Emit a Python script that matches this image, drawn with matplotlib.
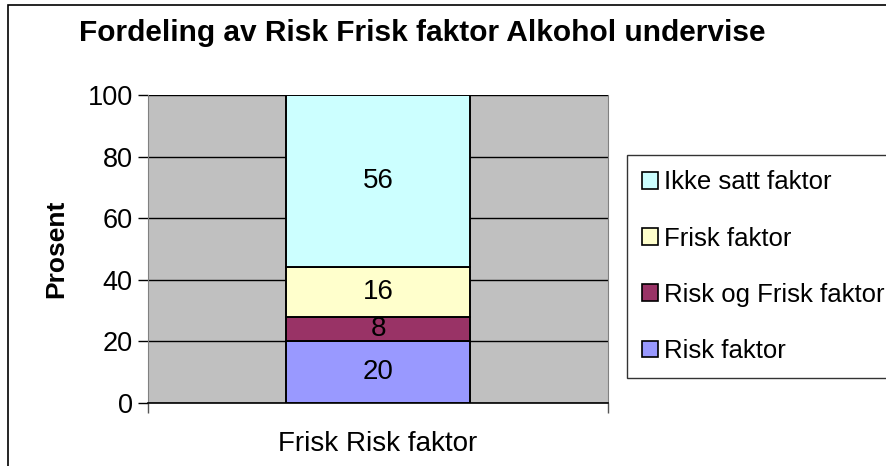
import matplotlib.pyplot as plt
from matplotlib.patches import Rectangle

plt.rcParams["font.family"] = ["Liberation Sans", "DejaVu Sans"]

categories = ["Frisk Risk faktor"]
series_names = ["Risk faktor", "Risk og Frisk faktor", "Frisk faktor", "Ikke satt faktor"]
series_values = [[20], [8], [16], [56]]
series_colors = ["#9999FF", "#993366", "#FFFFCC", "#CCFFFF"]
y_ticks = [0, 20, 40, 60, 80, 100]

fig = plt.figure(figsize=(8.86, 4.66), dpi=100)
fig.patches.append(
    Rectangle((7.5 / 886, -0.1), 1.2, 1 - 5 / 466 + 0.1, transform=fig.transFigure,
              fill=False, edgecolor="black", linewidth=1.2)
)

ax = fig.add_axes([148 / 886, 63 / 466, 460 / 886, 308 / 466])
ax.set_facecolor("#C0C0C0")

x = list(range(len(categories)))
bottom = [0] * len(categories)
handles = []
for name, vals, color in zip(series_names, series_values, series_colors):
    bars = ax.bar(x, vals, width=0.4, bottom=bottom, color=color,
                  edgecolor="black", linewidth=1.4, label=name, zorder=3)
    handles.append(bars)
    for xi, v, b in zip(x, vals, bottom):
        ax.text(xi, b + v / 2, str(v), ha="center", va="center",
                fontsize=20, zorder=4)
    bottom = [b + v for b, v in zip(bottom, vals)]

ax.set_xlim(-0.5, 0.5)
ax.set_ylim(0, 100)
ax.set_yticks(y_ticks)
ax.tick_params(axis="y", labelsize=19.5, length=7, width=1, direction="out", pad=4)
ax.yaxis.grid(True, color="black", linewidth=1, zorder=1)
ax.set_axisbelow(True)

ax.set_xticks(x)
ax.set_xticklabels(categories, fontsize=20)
ax.tick_params(axis="x", length=0, pad=20)
ax.set_xticks([-0.5, 0.5], minor=True)
ax.tick_params(axis="x", which="minor", length=7, width=1, color="#555555")

ax.spines["top"].set_visible(False)
ax.spines["left"].set_color("#808080")
ax.spines["right"].set_color("#808080")
ax.spines["bottom"].set_color("black")
ax.spines["bottom"].set_linewidth(1.2)

ax.set_ylabel("Prosent", fontsize=19, fontweight="bold", labelpad=14)

fig.text(422 / 886, 1 - 33 / 466, "Fordeling av Risk Frisk faktor Alkohol undervise",
         ha="center", va="center", fontsize=21.5, fontweight="bold")

leg = fig.legend(handles[::-1], series_names[::-1], loc="upper left",
                 bbox_to_anchor=(627 / 886, 1 - 155 / 466), fontsize=18.5,
                 frameon=True, fancybox=False, edgecolor="black",
                 labelspacing=1.25, handlelength=0.6, handleheight=0.6,
                 handletextpad=0.25, borderpad=0.6, borderaxespad=0)
leg.get_frame().set_linewidth(1)
for h in leg.legend_handles:
    h.set_edgecolor("black")
    h.set_linewidth(1.2)

fig.savefig("out.png", dpi=100)
